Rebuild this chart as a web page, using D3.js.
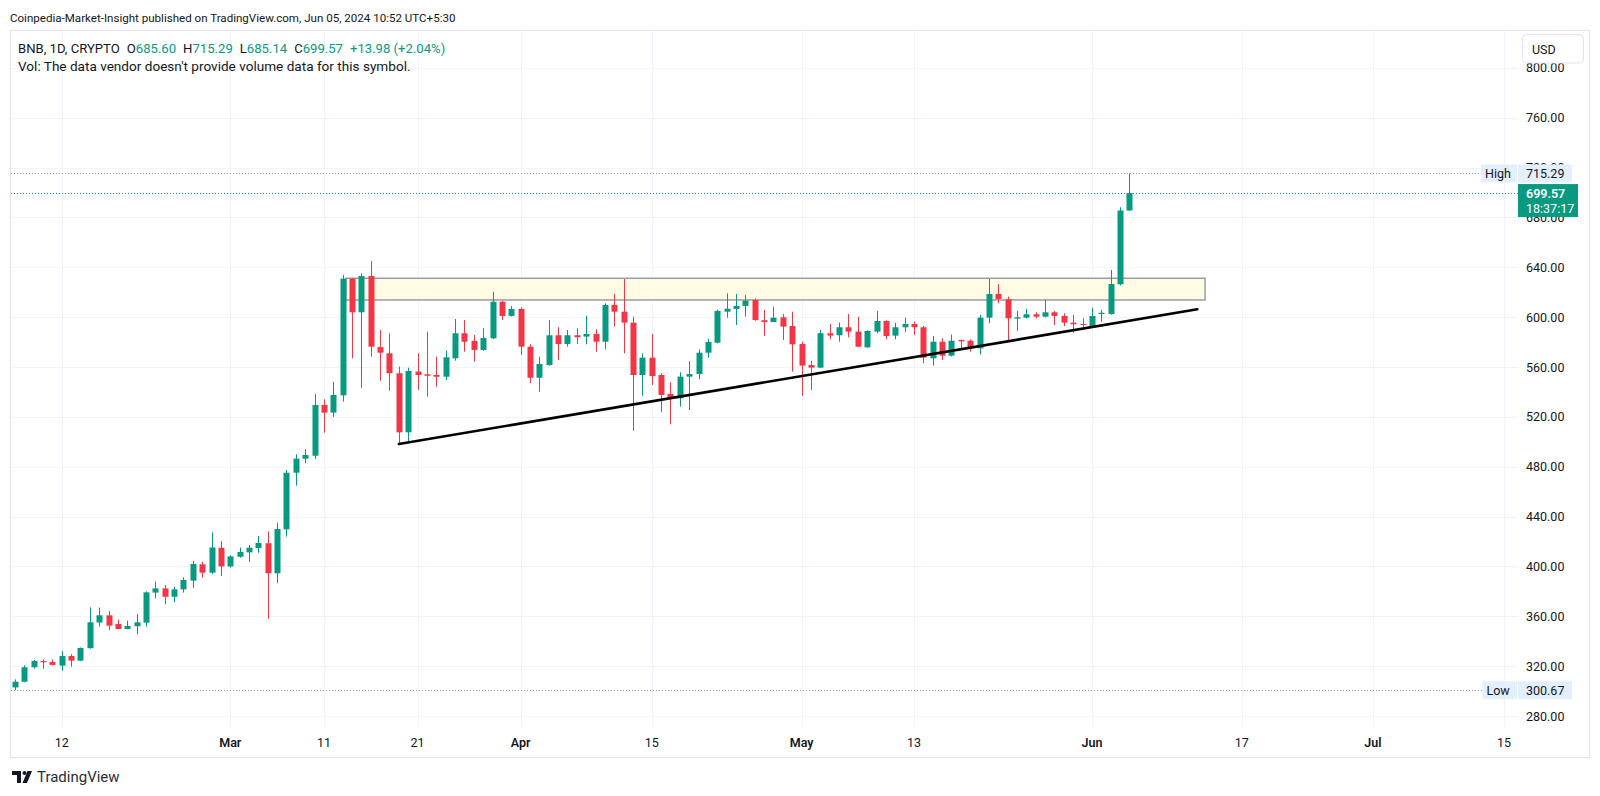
<!DOCTYPE html>
<html>
<head>
<meta charset="utf-8">
<script src="https://cdn.jsdelivr.net/npm/d3@7"></script>
<style>
  html, body { margin: 0; padding: 0; background: #ffffff; }
  svg { display: block; font-family: Roboto, "Noto Sans", sans-serif; }
</style>
</head>
<body>
<svg id="chart" width="1600" height="796"></svg>
<script>
// ---------------- DATA ----------------
const startDate = "2024-02-07"; // first daily candle, one candle per consecutive day
const open = [
  302.9,307.5,319.1,324.1,323.3,320.4,328.1,324.4,334.4,355.0,360.8,353.8,349.8,352.0,354.9,379.0,382.4,375.7,381.6,388.6,401.7,395.0,415.0,
  400.0,407.8,411.3,414.8,418.6,394.5,429.8,475.2,486.4,488.8,529.5,523.4,537.3,630.9,603.9,633.0,576.0,571.0,555.0,507.6,556.3,554.2,553.6,552.2,567.0,587.1,580.9,573.7,583.0,612.4,601.0,
  606.6,576.3,551.4,561.6,585.5,578.5,585.5,584.4,586.5,580.3,609.8,604.4,595.6,553.6,567.5,553.6,538.4,534.9,552.3,554.4,571.5,579.5,604.4,606.6,609.0,613.8,597.5,596.1,599.9,592.9,
  578.5,561.6,559.5,587.1,585.5,591.9,588.4,575.8,588.4,596.9,585.2,591.9,594.5,591.9,567.0,580.3,569.1,581.7,581.1,575.0,599.6,618.6,614.3,598.8,599.6,602.3,600.4,603.9,601.0,595.6,594.5,
  592.9,602.6,602.6,626.4,685.60
];
const high = [
  309.4,320.7,325.0,325.4,325.4,332.0,329.7,335.0,367.2,367.0,364.2,357.4,356.5,361.8,380.0,387.8,385.1,383.6,391.3,404.4,403.8,427.3,420.4,
  409.0,415.2,417.2,424.4,428.0,435.1,477.4,490.0,494.2,538.4,534.0,548.0,633.9,631.5,635.2,645.1,589.7,587.0,560.3,559.5,571.0,588.4,568.3,573.1,598.5,597.7,585.7,591.1,620.4,613.2,609.0,
  607.6,578.2,568.3,597.7,591.9,589.7,591.1,601.2,590.3,611.1,618.6,630.6,600.4,571.0,586.5,555.0,547.8,555.8,564.8,574.2,582.7,606.0,619.2,618.6,617.8,615.0,605.8,608.4,602.6,604.4,
  580.3,565.1,589.7,594.5,595.6,602.6,600.4,589.5,605.0,597.5,595.6,599.6,596.4,592.9,584.9,583.0,586.0,582.0,582.2,601.8,630.6,626.4,616.4,605.0,606.6,603.9,613.8,605.0,603.1,601.8,599.1,
  607.6,605.8,637.9,688.2,715.29
];
const low = [
  300.67,307.0,318.0,318.0,320.5,316.3,319.6,324.0,334.0,351.7,349.0,349.6,349.5,345.5,351.7,374.4,369.6,371.4,379.0,383.0,391.0,394.0,392.3,
  399.0,406.9,403.6,411.0,358.0,386.5,423.9,464.8,482.8,486.2,507.3,520.0,532.2,567.0,543.4,568.3,549.0,541.0,498.2,500.0,541.6,536.2,544.2,549.6,565.1,572.3,564.3,573.0,582.5,597.7,600.5,
  569.7,547.0,540.2,561.0,565.6,576.3,578.5,578.2,572.3,574.2,592.4,571.0,508.7,537.0,545.6,523.7,514.0,528.2,525.5,550.2,567.5,579.0,599.6,593.7,600.4,597.0,584.9,596.0,581.7,556.3,
  537.0,541.6,559.0,582.2,580.3,583.9,576.0,575.5,587.0,582.2,582.2,588.4,585.7,563.0,561.1,565.6,568.5,573.7,572.3,570.2,595.1,611.1,581.1,589.0,599.0,599.1,600.0,593.7,592.9,587.6,590.3,
  592.5,596.4,602.0,625.5,685.14
];
const close = [
  307.5,319.1,324.1,323.1,321.0,328.1,324.4,334.6,355.2,360.8,352.5,349.8,352.2,355.2,379.2,382.4,375.7,381.6,389.1,402.0,395.0,415.2,400.0,
  408.1,411.6,415.0,418.8,394.5,430.0,475.2,486.5,489.4,529.5,523.4,537.6,630.9,603.9,633.0,576.3,571.5,555.0,507.6,556.8,553.6,553.0,552.2,567.8,587.1,580.3,573.7,583.3,612.4,601.0,606.6,
  576.3,551.4,562.4,585.5,578.5,585.5,583.9,586.5,580.3,609.8,604.4,595.6,553.6,567.5,552.8,537.6,534.9,552.3,554.4,571.5,580.1,605.0,606.8,609.0,613.2,597.7,596.1,599.6,592.4,578.2,
  561.1,559.5,587.1,585.2,591.9,588.4,576.3,588.9,596.9,584.9,591.9,594.5,591.9,567.5,580.3,569.1,581.1,580.6,575.0,599.6,618.6,614.6,599.1,599.9,602.3,600.4,603.9,601.0,595.6,594.3,593.7,
  601.0,603.6,626.6,685.59,699.57
];
const timeTickDates  = ["2024-02-12","2024-03-01","2024-03-11","2024-03-21","2024-04-01","2024-04-15","2024-05-01","2024-05-13","2024-06-01","2024-06-17","2024-07-01","2024-07-15"];
const timeTickLabels = ["12","Mar","11","21","Apr","15","May","13","Jun","17","Jul","15"];
const priceTicks = [280,320,360,400,440,480,520,560,600,640,680,720,760,800];
// drawings (in data terms)
const zoneBox   = { from: "2024-03-13T08:00", to: "2024-06-13T02:00", top: 631.2, bottom: 613.8 };
const trendLine = { from: "2024-03-19", fromPrice: 498.2, to: "2024-06-12T06:00", toPrice: 606.3 };
const lastClose = 699.57, hiVal = 715.29, loVal = 300.67;
const headerText = "Coinpedia-Market-Insight published on TradingView.com, Jun 05, 2024 10:52 UTC+5:30";
const legendParts = [["BNB, 1D, CRYPTO", 0],["O",0],["685.60",1],["H",0],["715.29",1],["L",0],["685.14",1],["C",0],["699.57",1],["+13.98 (+2.04%)",1]];
const volText = "Vol: The data vendor doesn't provide volume data for this symbol.";

// ---------------- CHART ----------------
const UP = "#089981", DOWN = "#F23645", TXT = "#131722", GRID = "#f0f3fa";
const svg = d3.select("#chart");
const parse = s => new Date(s.length > 10 ? s + "Z" : s + "T00:00Z");
const day0 = parse(startDate);
const candles = open.map((o, i) => ({
  date: d3.utcDay.offset(day0, i), o, h: high[i], l: low[i], c: close[i]
}));

const pane = { x0: 10, y0: 30, x1: 1589, y1: 757 };
const plotBottom = 727, gridRight = 1518;

const x = d3.scaleUtc().domain([parse("2024-02-12"), parse("2024-07-15")]).range([61.7, 1504]);
const y = d3.scaleLinear().domain([280, 800]).range([716, 67.9]);

// pane border
svg.append("rect").attr("x", pane.x0 + 0.5).attr("y", pane.y0 + 0.5)
  .attr("width", pane.x1 - pane.x0).attr("height", pane.y1 - pane.y0)
  .attr("fill", "#fff").attr("stroke", "#e0e3eb");

// grid
const gh = svg.append("g");
gh.selectAll("line.h").data(priceTicks).join("line")
  .attr("x1", pane.x0 + 1).attr("x2", gridRight)
  .attr("y1", d => Math.round(y(d)) + 0.5).attr("y2", d => Math.round(y(d)) + 0.5)
  .attr("stroke", GRID).attr("stroke-width", 1);
gh.selectAll("line.v").data(timeTickDates).join("line")
  .attr("x1", d => Math.round(x(parse(d))) + 0.5).attr("x2", d => Math.round(x(parse(d))) + 0.5)
  .attr("y1", pane.y0 + 1).attr("y2", plotBottom)
  .attr("stroke", GRID).attr("stroke-width", 1);

// zone rectangle
svg.append("rect")
  .attr("x", x(parse(zoneBox.from))).attr("y", y(zoneBox.top))
  .attr("width", x(parse(zoneBox.to)) - x(parse(zoneBox.from)))
  .attr("height", y(zoneBox.bottom) - y(zoneBox.top))
  .attr("fill", "#fffbe5").attr("stroke", "#9a9ca3").attr("stroke-width", 1.5);

// high / low / close dotted lines
function dotted(v, color, xEnd) {
  svg.append("line").attr("x1", pane.x0 + 1).attr("x2", xEnd)
    .attr("y1", Math.round(y(v)) + 0.5).attr("y2", Math.round(y(v)) + 0.5)
    .attr("stroke", color).attr("stroke-width", 1).attr("stroke-dasharray", "1,2");
}
dotted(hiVal, "#9598a1", 1481);
dotted(loVal, "#9598a1", 1482);
dotted(lastClose, UP, 1518);

// candles
const bw = 6;
const cg = svg.append("g");
cg.selectAll("line.wick").data(candles).join("line")
  .attr("x1", d => Math.round(x(d.date)) + 0.5).attr("x2", d => Math.round(x(d.date)) + 0.5)
  .attr("y1", d => y(d.h)).attr("y2", d => y(d.l))
  .attr("stroke", d => d.c >= d.o ? UP : DOWN).attr("stroke-width", 1);
cg.selectAll("rect.body").data(candles).join("rect")
  .attr("x", d => Math.round(x(d.date)) + 0.5 - bw / 2)
  .attr("y", d => y(Math.max(d.o, d.c)))
  .attr("width", bw)
  .attr("height", d => Math.max(1, Math.abs(y(d.o) - y(d.c))))
  .attr("fill", d => d.c >= d.o ? UP : DOWN);

// trend line
svg.append("line")
  .attr("x1", x(parse(trendLine.from))).attr("y1", y(trendLine.fromPrice))
  .attr("x2", x(parse(trendLine.to))).attr("y2", y(trendLine.toPrice))
  .attr("stroke", "#000").attr("stroke-width", 2.6).attr("stroke-linecap", "round");

// price axis labels
svg.append("g").selectAll("text").data(priceTicks).join("text")
  .attr("x", 1526).attr("y", d => y(d)).attr("dominant-baseline", "central")
  .attr("font-size", 12.5).attr("fill", TXT).text(d => d.toFixed(2));

// time axis labels
svg.append("g").selectAll("text").data(timeTickDates).join("text")
  .attr("x", d => x(parse(d))).attr("y", 742.5).attr("text-anchor", "middle")
  .attr("dominant-baseline", "central").attr("font-size", 12.5)
  .attr("font-weight", (d, i) => isNaN(+timeTickLabels[i]) ? 600 : 400)
  .attr("fill", TXT).text((d, i) => timeTickLabels[i]);

// USD box
svg.append("rect").attr("x", 1522.5).attr("y", 34.5).attr("width", 61).attr("height", 28.5).attr("rx", 4)
  .attr("fill", "#fff").attr("stroke", "#e0e3eb");
svg.append("text").attr("x", 1532).attr("y", 49).attr("dominant-baseline", "central")
  .attr("font-size", 12.5).attr("fill", TXT).text("USD");

// high / low labels
function tagLabel(v, name, nameX) {
  const cy = y(v);
  svg.append("rect").attr("x", nameX).attr("y", cy - 9).attr("width", 1517 - nameX).attr("height", 18).attr("fill", "#e3effd");
  svg.append("rect").attr("x", 1518).attr("y", cy - 9).attr("width", 54).attr("height", 18).attr("fill", "#e3effd");
  svg.append("text").attr("x", nameX + 4).attr("y", cy).attr("dominant-baseline", "central")
    .attr("font-size", 12.5).attr("fill", TXT).text(name);
  svg.append("text").attr("x", 1526).attr("y", cy).attr("dominant-baseline", "central")
    .attr("font-size", 12.5).attr("fill", TXT).text(v.toFixed(2));
}
tagLabel(hiVal, "High", 1481);
tagLabel(loVal, "Low", 1482.5);

// last price label
{
  const cy = y(lastClose);
  svg.append("rect").attr("x", 1518).attr("y", cy - 9).attr("width", 60).attr("height", 33).attr("fill", UP);
  svg.append("text").attr("x", 1526).attr("y", cy).attr("dominant-baseline", "central")
    .attr("font-size", 12.5).attr("font-weight", 600).attr("fill", "#fff").text(lastClose.toFixed(2));
  svg.append("text").attr("x", 1526).attr("y", cy + 15.5).attr("dominant-baseline", "central")
    .attr("font-size", 12.5).attr("fill", "#fff").text("18:37:17");
}

// header & legend
function fit(sel, w) {
  const n = sel.node(); const fs = +sel.attr("font-size");
  const len = n.getBBox().width;
  if (len > 0) sel.attr("font-size", fs * w / len);
}
const hdr = svg.append("text").attr("x", 10).attr("y", 17.5).attr("dominant-baseline", "central")
  .attr("font-size", 13).attr("fill", TXT).text(headerText);
fit(hdr, 446);

const leg = svg.append("text").attr("x", 18).attr("y", 47.5).attr("dominant-baseline", "central")
  .attr("font-size", 13).attr("fill", TXT);
legendParts.forEach(([t, g], i) => {
  leg.append("tspan").attr("dx", (i > 0 && !g) || i === legendParts.length - 1 ? 7 : 0)
    .attr("fill", g ? UP : TXT).text(t);
});
fit(leg, 428);

const vol = svg.append("text").attr("x", 18).attr("y", 66).attr("dominant-baseline", "central")
  .attr("font-size", 13).attr("fill", TXT).text(volText);
fit(vol, 393);

// TradingView logo
const lg = svg.append("g").attr("fill", "#131722");
lg.append("path").attr("d", "M12 771h9v12h-4v-8h-5z");
lg.append("circle").attr("cx", 24.5).attr("cy", 773).attr("r", 2);
lg.append("path").attr("d", "M27.5 771h4.5l-5 12h-4.5z");
svg.append("text").attr("x", 37).attr("y", 777).attr("dominant-baseline", "central")
  .attr("font-size", 15).attr("fill", "#2a2e39").text("TradingView");
</script>
</body>
</html>
